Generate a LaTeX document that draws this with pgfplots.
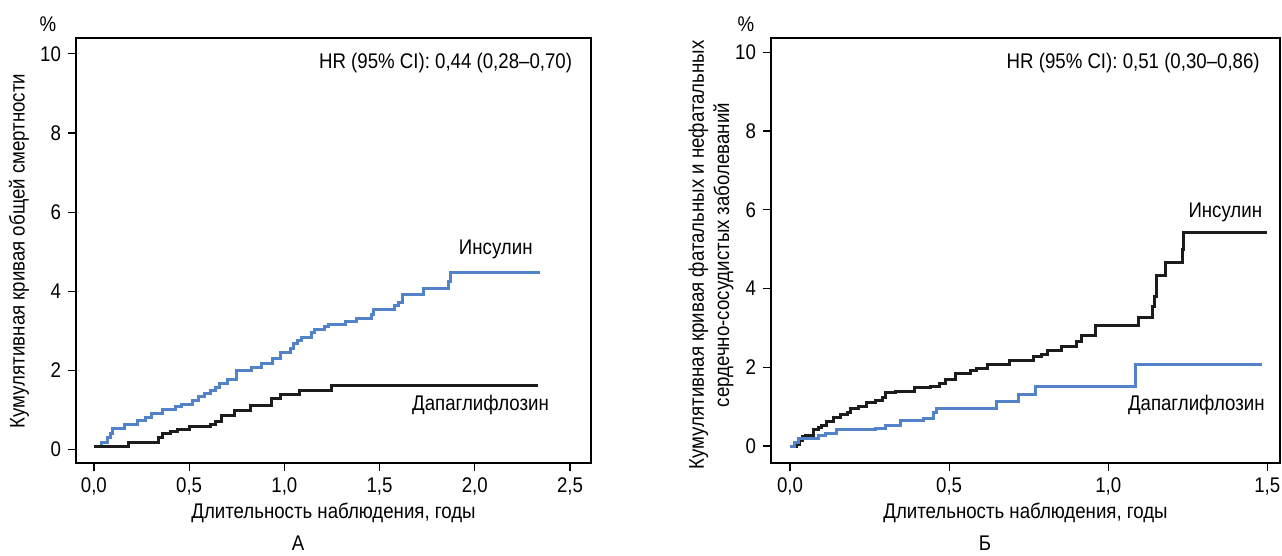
\documentclass[border=0pt]{standalone}
\usepackage{fontspec}
\setmainfont{Liberation Sans}[FakeStretch=0.88]
\usepackage{pgfplots}
\pgfplotsset{compat=1.18}
\definecolor{cblue}{RGB}{82,130,200}
\definecolor{cblack}{RGB}{28,28,28}
\pgfplotsset{
  km/.style={
    scale only axis, height=212.5pt, anchor=south west,
    axis line style={line width=0.6pt},
    tick align=outside, major tick length=4pt,
    xtick pos=bottom, ytick pos=left,
    tick style={line width=0.6pt, black},
    ytick={0,2,4,6,8,10},
    /pgf/number format/assume math mode=true,
    /pgf/number format/use comma,
    xticklabel style={/pgf/number format/fixed,/pgf/number format/fixed zerofill,/pgf/number format/precision=1},
    clip=false,
    every axis plot/.append style={const plot mark left, no marks, line width=1.5pt},
  }
}
\begin{document}
\begin{tikzpicture}[font=\fontsize{10.6}{12.7}\selectfont]
\path[use as bounding box] (0,0) rectangle (641pt,278pt);
% Panel A
\begin{axis}[km, at={(38pt,46.5pt)}, width=257.5pt,
  xmin=-0.094, xmax=2.61, ymin=-0.34, ymax=10.4,
  xtick={0,0.5,1,1.5,2,2.5}]
\addplot[cblue] coordinates {
(0,0.08)(0.04,0.17)(0.07,0.30)(0.085,0.40)(0.10,0.53)(0.16,0.64)(0.23,0.73)(0.27,0.81)(0.30,0.91)(0.36,1.0)(0.43,1.08)(0.46,1.15)(0.52,1.25)(0.55,1.34)(0.58,1.42)(0.61,1.50)(0.64,1.57)(0.66,1.66)(0.70,1.76)(0.75,2.01)(0.83,2.08)(0.88,2.18)(0.94,2.31)(0.98,2.45)(1.03,2.55)(1.05,2.67)(1.07,2.76)(1.09,2.84)(1.14,2.95)(1.16,3.03)(1.21,3.10)(1.23,3.16)(1.32,3.23)(1.38,3.32)(1.46,3.42)(1.47,3.54)(1.58,3.64)(1.60,3.72)(1.62,3.92)(1.73,4.06)(1.86,4.25)(1.87,4.47)(2.34,4.47)
};
\addplot[cblack] coordinates {
(0,0.08)(0.18,0.19)(0.34,0.30)(0.36,0.41)(0.40,0.45)(0.44,0.51)(0.50,0.57)(0.61,0.64)(0.64,0.70)(0.67,0.87)(0.74,0.98)(0.82,1.12)(0.93,1.29)(0.98,1.38)(1.08,1.49)(1.25,1.62)(2.33,1.62)
};
\node[anchor=east] at (rel axis cs:0.977,0.942) {HR (95\% CI): 0,44 (0,28–0,70)};
\node at (axis cs:2.11,5.07) {Инсулин};
\node at (axis cs:2.03,1.13) {Дапаглифлозин};
\end{axis}
% Panel B
\begin{axis}[km, at={(385.5pt,46.5pt)}, width=254.5pt,
  xmin=-0.06, xmax=1.54, ymin=-0.43, ymax=10.36,
  xtick={0,0.5,1,1.5}]
\addplot[cblack] coordinates {
(0,0)(0.02,0.05)(0.03,0.15)(0.04,0.24)(0.05,0.28)(0.075,0.41)(0.09,0.47)(0.10,0.53)(0.115,0.62)(0.136,0.72)(0.16,0.81)(0.18,0.86)(0.19,0.96)(0.215,1.0)(0.24,1.10)(0.267,1.15)(0.29,1.24)(0.30,1.35)(0.33,1.38)(0.39,1.48)(0.44,1.52)(0.47,1.58)(0.49,1.68)(0.52,1.83)(0.566,1.92)(0.585,1.97)(0.62,2.06)(0.69,2.17)(0.765,2.27)(0.79,2.33)(0.81,2.42)(0.854,2.54)(0.90,2.65)(0.917,2.80)(0.96,3.05)(1.095,3.27)(1.14,3.55)(1.145,3.79)(1.151,4.32)(1.18,4.66)(1.234,5.0)(1.237,5.41)(1.50,5.41)
};
\addplot[cblue] coordinates {
(0,0)(0.015,0.08)(0.026,0.2)(0.09,0.26)(0.11,0.33)(0.147,0.41)(0.267,0.45)(0.30,0.53)(0.346,0.64)(0.42,0.70)(0.45,0.85)(0.461,0.96)(0.65,1.14)(0.718,1.32)(0.77,1.52)(1.085,2.06)(1.483,2.06)
};
\node[anchor=east] at (rel axis cs:0.974,0.942) {HR (95\% CI): 0,51 (0,30–0,86)};
\node at (axis cs:1.368,5.93) {Инсулин};
\node at (axis cs:1.277,1.04) {Дапаглифлозин};
\end{axis}
% outer texts
\node at (24pt,266pt) {\%};
\node at (373pt,266pt) {\%};
\node[rotate=90] at (9.5pt,152.5pt) {Кумулятивная кривая общей смертности};
\node[rotate=90, align=center] at (355.5pt,150.5pt) {Кумулятивная кривая фатальных и нефатальных\\сердечно-сосудистых заболеваний};
\node at (166.75pt,21.5pt) {Длительность наблюдения, годы};
\node at (512.75pt,21.5pt) {Длительность наблюдения, годы};
\node at (149pt,6.5pt) {А};
\node at (492.5pt,6.5pt) {Б};
\end{tikzpicture}
\end{document}
